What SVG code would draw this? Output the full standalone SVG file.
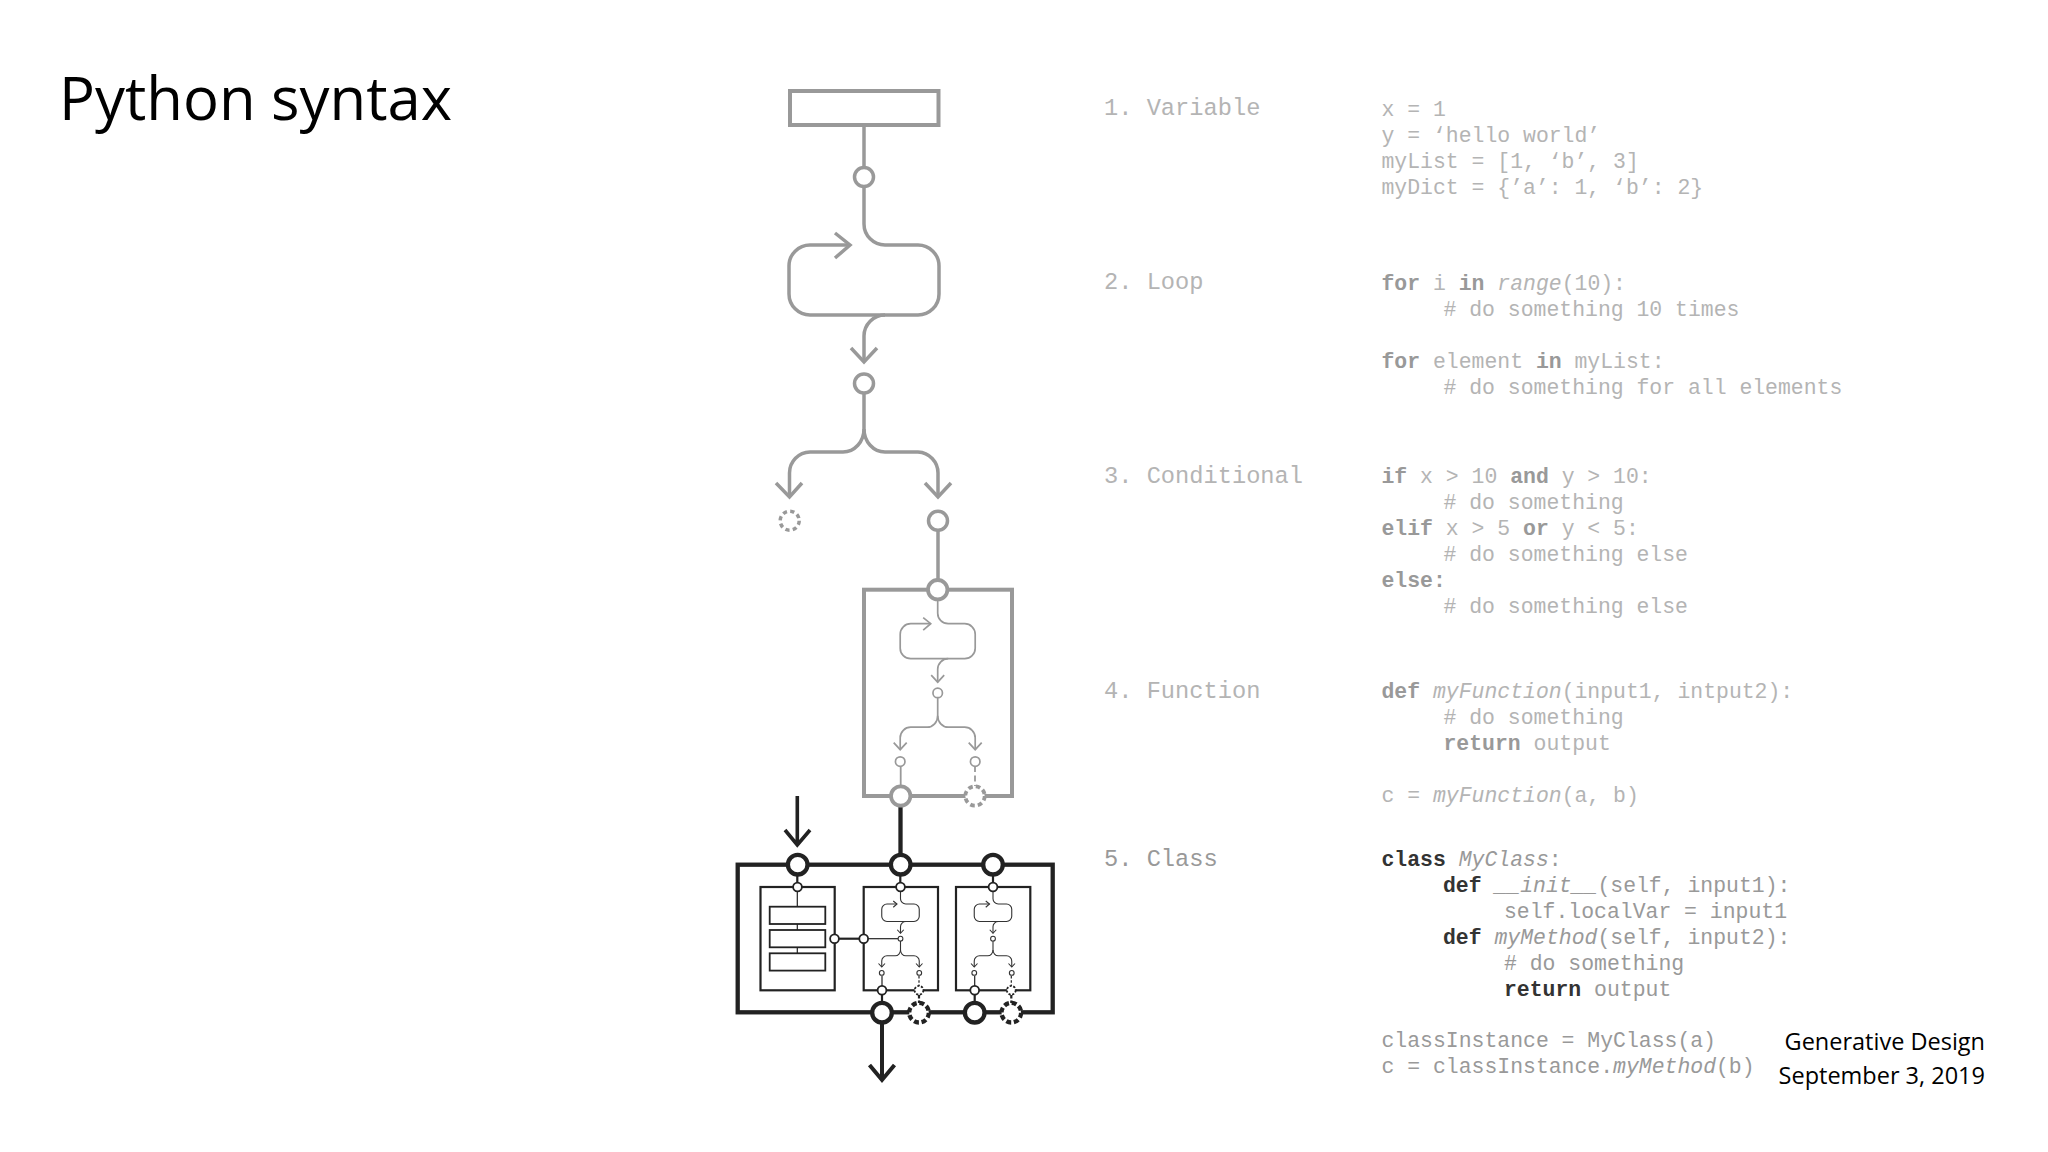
<svg xmlns="http://www.w3.org/2000/svg" width="2048" height="1152" viewBox="0 0 2048 1152">
<style>
.bg{fill:#fff}
.ln{fill:none;stroke-linecap:butt;stroke-linejoin:miter}
.g{stroke:#999}
.k{stroke:#222}
.w35{stroke-width:3.5}
.dot{fill:#fff}
.code{font-family:"Liberation Mono",monospace;font-size:21.45px;fill:#b4b4b4;white-space:pre}
.code .b{font-weight:700;fill:#999}
.code .i{font-style:italic}
.lab{font-size:23.7px}
.dk{fill:#999}
.dk .b{fill:#333}
.sans{font-family:"Open Sans",sans-serif;fill:#000}
</style>
<defs>
<g id="flow" fill="none">
<path d="M0,0V47A21,21 0 0 0 21,68H54A21,21 0 0 1 75,89V117A21,21 0 0 1 54,138H-54A21,21 0 0 1 -75,117V89A21,21 0 0 1 -54,68H-14"/>
<path d="M-29,56L-14,68L-29,81"/>
<path d="M21,138A21,21 0 0 0 0,159V185"/>
<path d="M-13,171L0,185L13,171"/>
<path d="M0,216V252A21,23 0 0 1 -21,275H-54A21,21 0 0 0 -75,296V320"/>
<path d="M0,252A21,23 0 0 0 21,275H54A21,21 0 0 1 75,296V320"/>
<path d="M-88,306L-75,320L-62,306M62,306L75,320L88,306"/>
<circle cx="0" cy="206.5" r="9.5" fill="#fff"/>
<circle cx="-75" cy="343.7" r="9.5" fill="#fff"/>
<circle cx="75" cy="343.7" r="9.5" fill="#fff"/>
</g>
</defs>
<rect class="bg" width="2048" height="1152"/>
<text class="sans" x="59" y="120" font-size="59.8">Python syntax</text>

<g id="connectors" class="ln">
<g class="g w35">
<path d="M864,125V167"/>
<path d="M864,186V224A21,21 0 0 0 885,245H918A21,21 0 0 1 939,266V294A21,21 0 0 1 918,315H810A21,21 0 0 1 789,294V266A21,21 0 0 1 810,245H850"/>
<path d="M835,233L850,245L835,258"/>
<path d="M885,315A21,21 0 0 0 864,336V362"/>
<path d="M851,348L864,362L877,348"/>
<path d="M864,393V429A21,23 0 0 1 843,452H810A21,21 0 0 0 789.5,473V497"/>
<path d="M864,429A21,23 0 0 0 885,452H918A21,21 0 0 1 938,473V497"/>
<path d="M776,483L789.5,497L802,483M925,483L938,497L951,483"/>
<path d="M938,530V580"/>
<path stroke-width="1.8" d="M900.7,766V787"/>
<path stroke-width="1.8" stroke-dasharray="6 3.5" d="M975,766V786"/>
</g>
<g class="k">
<path stroke-width="4.3" d="M900.5,806V855"/>
<path stroke-width="3.6" d="M797.3,796V845M785,830L797.3,845L810,830"/>
<path stroke-width="4" d="M882,1022V1080M869.5,1065L882,1080L894.5,1065"/>
<path stroke-width="2.2" d="M797.3,875V883M900.3,875V883M993,875V883"/>
<path stroke-width="2.2" d="M839,938.7H859"/>
<path stroke-width="1.2" d="M797.3,892V907M797.3,924V930M797.3,947V953"/>
<path stroke-width="1.2" d="M868,938.7H898"/>
<path stroke-width="1.2" d="M882,976V986M974.7,976V986"/>
<path stroke-width="1.2" stroke-dasharray="2.5 1.8" d="M919,976V986M1011.3,976V986"/>
<path stroke-width="2.2" d="M882,995V1003M974.7,995V1003"/>
<path stroke-width="2.2" stroke-dasharray="3.5 2" d="M919,995V1003M1011.3,995V1003"/>
</g>
</g>

<g id="variable"><rect class="ln g" stroke-width="4" x="790" y="91" width="148.5" height="34"/></g>
<g id="joint-1"><circle class="dot g w35" cx="864" cy="177" r="9.5"/></g>
<g id="joint-2"><circle class="dot g w35" cx="864" cy="383.5" r="9.5"/></g>
<g id="branch-false"><circle class="dot g" stroke-width="3.5" stroke-dasharray="4.2 3.3" cx="789.7" cy="520.7" r="9.5"/></g>
<g id="branch-true"><circle class="dot g w35" cx="938" cy="520.7" r="9.5"/></g>

<g id="function">
<rect class="ln g" stroke-width="4" x="864" y="589.7" width="148" height="206.3"/>
<use href="#flow" transform="translate(937.7,589.7) scale(.5)" stroke="#999" stroke-width="3.4"/>
<circle class="dot g" stroke-width="3.8" cx="937.7" cy="589.7" r="9.7"/>
<circle class="dot g" stroke-width="3.8" cx="900.7" cy="796" r="9.7"/>
<circle class="dot g" stroke-width="3.8" stroke-dasharray="4.6 3.1" cx="975" cy="796" r="9.7"/>
</g>

<g id="class">
<rect class="ln k" stroke-width="4.3" x="737.7" y="864.7" width="315" height="147.6"/>
<circle class="dot k" stroke-width="4.3" cx="797.7" cy="864.7" r="9.8"/>
<circle class="dot k" stroke-width="4.3" cx="900.7" cy="864.7" r="9.8"/>
<circle class="dot k" stroke-width="4.3" cx="993" cy="864.7" r="9.8"/>
<circle class="dot k" stroke-width="4.3" cx="882" cy="1012.7" r="9.8"/>
<circle class="dot k" stroke-width="4.3" stroke-dasharray="5 2.7" cx="919" cy="1012.7" r="9.8"/>
<circle class="dot k" stroke-width="4.3" cx="974.7" cy="1012.7" r="9.8"/>
<circle class="dot k" stroke-width="4.3" stroke-dasharray="5 2.7" cx="1011.3" cy="1012.7" r="9.8"/>
</g>
<g id="class-attributes">
<rect class="ln k" stroke-width="2.2" x="760.5" y="887" width="74.2" height="103.3"/>
<rect class="ln k" stroke-width="1.8" x="769.7" y="906.7" width="55.6" height="17.3"/>
<rect class="ln k" stroke-width="1.8" x="769.7" y="930" width="55.6" height="17.3"/>
<rect class="ln k" stroke-width="1.8" x="769.7" y="953.3" width="55.6" height="17.3"/>
<circle class="dot k" stroke-width="1.8" cx="797.5" cy="887" r="4.4"/>
<circle class="dot k" stroke-width="1.8" cx="834.5" cy="938.7" r="4.4"/>
</g>
<g id="class-method-1">
<rect class="ln k" stroke-width="2.2" x="863.7" y="887" width="74.3" height="103.3"/>
<use href="#flow" transform="translate(900.5,887) scale(.25)" stroke="#333" stroke-width="4.4"/>
<circle class="dot k" stroke-width="1.8" cx="900.5" cy="887" r="4.4"/>
<circle class="dot k" stroke-width="1.8" cx="863.7" cy="938.7" r="4.4"/>
<circle class="dot k" stroke-width="1.8" cx="882" cy="990.3" r="4.4"/>
<circle class="dot k" stroke-width="1.8" stroke-dasharray="2.2 1.5" cx="919" cy="990.3" r="4.4"/>
</g>
<g id="class-method-2">
<rect class="ln k" stroke-width="2.2" x="956" y="887" width="74.3" height="103.3"/>
<use href="#flow" transform="translate(993,887) scale(.25)" stroke="#333" stroke-width="4.4"/>
<circle class="dot k" stroke-width="1.8" cx="993" cy="887" r="4.4"/>
<circle class="dot k" stroke-width="1.8" cx="974.7" cy="990.3" r="4.4"/>
<circle class="dot k" stroke-width="1.8" stroke-dasharray="2.2 1.5" cx="1011.3" cy="990.3" r="4.4"/>
</g>

<g id="labels" class="code lab">
<text x="1104" y="115">1. Variable</text>
<text x="1104" y="289">2. Loop</text>
<text x="1104" y="482.5">3. Conditional</text>
<text x="1104" y="697.5">4. Function</text>
<text x="1104" y="865.5" class="dk">5. Class</text>
</g>
<g id="code-variable" class="code">
<text x="1381.5" y="115.5">x = 1</text>
<text x="1381.5" y="141.5">y = ‘hello world’</text>
<text x="1381.5" y="167.5">myList = [1, ‘b’, 3]</text>
<text x="1381.5" y="193.5">myDict = {’a’: 1, ‘b’: 2}</text>
</g>
<g id="code-loop" class="code">
<text x="1381.5" y="289.5"><tspan class="b">for</tspan> i <tspan class="b">in</tspan> <tspan class="i">range</tspan>(10):</text>
<text x="1443.5" y="315.5"># do something 10 times</text>
<text x="1381.5" y="367.5"><tspan class="b">for</tspan> element <tspan class="b">in</tspan> myList:</text>
<text x="1443.5" y="393.5"># do something for all elements</text>
</g>
<g id="code-conditional" class="code">
<text x="1381.5" y="482.5"><tspan class="b">if</tspan> x &gt; 10 <tspan class="b">and</tspan> y &gt; 10:</text>
<text x="1443.5" y="508.5"># do something</text>
<text x="1381.5" y="534.5"><tspan class="b">elif</tspan> x &gt; 5 <tspan class="b">or</tspan> y &lt; 5:</text>
<text x="1443.5" y="560.5"># do something else</text>
<text x="1381.5" y="586.5"><tspan class="b">else</tspan><tspan class="b">:</tspan></text>
<text x="1443.5" y="612.5"># do something else</text>
</g>
<g id="code-function" class="code">
<text x="1381.5" y="697.5"><tspan class="b">def</tspan> <tspan class="i">myFunction</tspan>(input1, intput2):</text>
<text x="1443.5" y="723.5"># do something</text>
<text x="1443.5" y="749.5"><tspan class="b">return</tspan> output</text>
<text x="1381.5" y="801.5">c = <tspan class="i">myFunction</tspan>(a, b)</text>
</g>
<g id="code-class" class="code">
<text class="dk" x="1381.5" y="865.5"><tspan class="b">class</tspan> <tspan class="i">MyClass</tspan>:</text>
<text class="dk" x="1443" y="891.5"><tspan class="b">def</tspan> <tspan class="i">__init__</tspan>(self, input1):</text>
<text class="dk" x="1504" y="917.5">self.localVar = input1</text>
<text class="dk" x="1443" y="943.5"><tspan class="b">def</tspan> <tspan class="i">myMethod</tspan>(self, input2):</text>
<text class="dk" x="1504" y="969.5"># do something</text>
<text class="dk" x="1504" y="995.5"><tspan class="b">return</tspan> output</text>
<text class="dk" x="1381.5" y="1046.5">classInstance = MyClass(a)</text>
<text class="dk" x="1381.5" y="1072.5">c = classInstance.<tspan class="i">myMethod</tspan>(b)</text>
</g>
<g id="footer" text-anchor="end">
<text class="sans" x="1985" y="1050" font-size="23.5">Generative Design</text>
<text class="sans" x="1985" y="1084" font-size="23.5">September 3, 2019</text>
</g>
</svg>
